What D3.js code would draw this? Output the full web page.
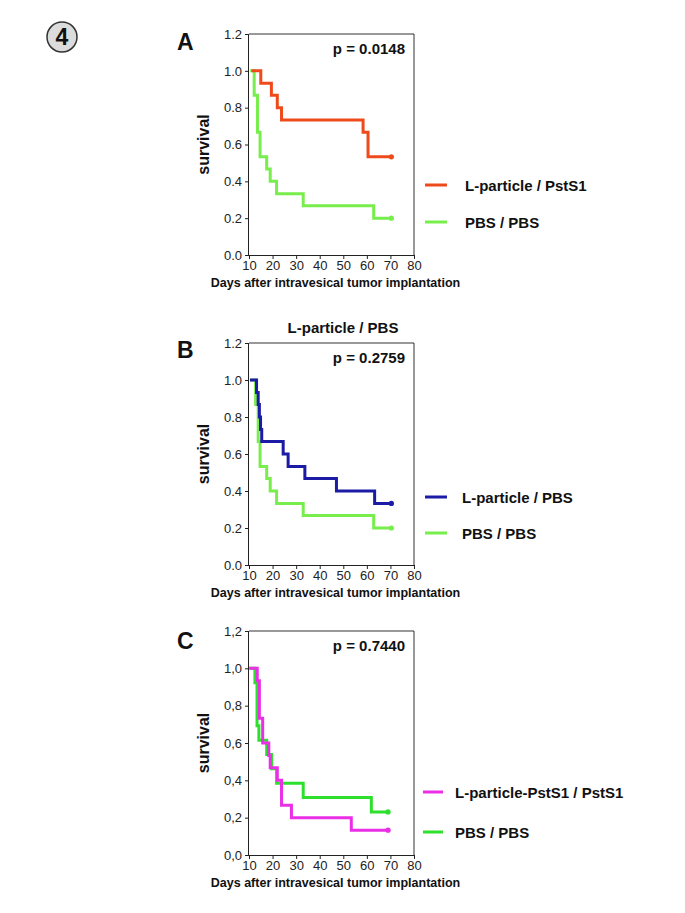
<!DOCTYPE html>
<html><head><meta charset="utf-8">
<script src="https://cdn.jsdelivr.net/npm/d3@7/dist/d3.min.js"></script>
<style>
body{margin:0;background:#fff;}
svg{display:block;font-family:"Liberation Sans",Arial,sans-serif;}
</style></head>
<body>
<svg id="chart" width="685" height="913"></svg>
<script>
// ---------- data ----------
const xTickValues = [10, 20, 30, 40, 50, 60, 70, 80];
const yTickValues = [0, 0.2, 0.4, 0.6, 0.8, 1.0, 1.2];
const yTickLabelsPoint = ["0.0", "0.2", "0.4", "0.6", "0.8", "1.0", "1.2"];
const yTickLabelsComma = ["0,0", "0,2", "0,4", "0,6", "0,8", "1,0", "1,2"];

const panelLetters = ["A", "B", "C"];
const pValues = ["p = 0.0148", "p = 0.2759", "p = 0.7440"];
const panelTitles = ["", "L-particle / PBS", ""];
const seriesNamesA = ["L-particle / PstS1", "PBS / PBS"];
const seriesNamesB = ["L-particle / PBS", "PBS / PBS"];
const seriesNamesC = ["L-particle-PstS1 / PstS1", "PBS / PBS"];

// Kaplan-Meier step points: [day, survival from that day on]
const survA_LparticlePstS1 = [[11,1.0],[15,0.933],[19.5,0.867],[22,0.8],[23.8,0.733],[58.4,0.667],[60.5,0.533],[70.4,0.533]];
const survA_PBS = [[10.5,1.0],[12.2,0.867],[13.6,0.667],[14.7,0.533],[17.5,0.467],[19,0.4],[21.7,0.333],[33,0.267],[62.9,0.2],[70.4,0.2]];
const survB_LparticlePBS = [[10.4,1.0],[13.2,0.933],[13.9,0.867],[14.4,0.8],[14.9,0.733],[15.4,0.667],[24.5,0.6],[26.6,0.533],[33.7,0.467],[47.1,0.4],[63.3,0.333],[70.4,0.333]];
const survB_PBS = [[10.5,1.0],[12.8,0.867],[13.9,0.667],[14.7,0.533],[17.5,0.467],[19,0.4],[21.7,0.333],[33,0.267],[62.9,0.2],[70.4,0.2]];
const survC_LparticlePstS1 = [[10.3,1.0],[13.5,0.933],[14.4,0.733],[15.8,0.6],[18.4,0.533],[19,0.467],[22,0.4],[23.8,0.267],[28,0.2],[53.4,0.133],[69,0.133]];
const survC_PBS = [[10,1.0],[12.5,0.923],[13.4,0.692],[14.2,0.615],[17.5,0.538],[19.6,0.462],[21.7,0.385],[33,0.308],[61.9,0.231],[69,0.231]];

// ---------- styles / layout ----------
const colRed = "#ef4a1c", colLightGreen = "#78ee4c", colBlue = "#1b1ba6", colMagenta = "#ea2fe6", colGreen = "#2ee02e";
const layout = [
  {top: 34, bottom: 255, letterY: 50, legendY: [185, 222], textX: 465, lineX: [425, 447]},
  {top: 343, bottom: 565, letterY: 358, legendY: [497, 533], textX: 462, lineX: [425, 447]},
  {top: 631, bottom: 855, letterY: 649, legendY: [792, 832], textX: 455, lineX: [423, 443]}
];
const panels = [
  {series: [survA_LparticlePstS1, survA_PBS], names: seriesNamesA, colors: [colRed, colLightGreen], ylab: yTickLabelsPoint},
  {series: [survB_LparticlePBS, survB_PBS], names: seriesNamesB, colors: [colBlue, colLightGreen], ylab: yTickLabelsPoint},
  {series: [survC_LparticlePstS1, survC_PBS], names: seriesNamesC, colors: [colMagenta, colGreen], ylab: yTickLabelsComma}
];
const left = 249, right = 414;

const svg = d3.select("#chart");
svg.append("rect").attr("width", 685).attr("height", 913).attr("fill", "#fff");

// figure number badge
svg.append("circle").attr("cx", 62).attr("cy", 37).attr("r", 15)
  .attr("fill", "#dcdcdc").attr("stroke", "#333").attr("stroke-width", 1.5);
svg.append("text").attr("x", 62).attr("y", 45).attr("text-anchor", "middle")
  .attr("font-size", 23).attr("font-weight", "bold").attr("fill", "#111").text("4");

panels.forEach((p, i) => {
  const L = layout[i];
  const x = d3.scaleLinear().domain([10, 80]).range([left, right]);
  const y = d3.scaleLinear().domain([0, 1.2]).range([L.bottom, L.top]);
  const g = svg.append("g");

  // frame (top and right)
  g.append("path").attr("d", `M${left},${L.top}H${right}V${L.bottom}`)
    .attr("fill", "none").attr("stroke", "#333").attr("stroke-width", 1);

  const yAxis = d3.axisLeft(y).tickValues(yTickValues).tickSize(4).tickPadding(3)
    .tickFormat((d, k) => p.ylab[k]);
  const ya = g.append("g").attr("transform", `translate(${left},0)`).call(yAxis);
  const xAxis = d3.axisBottom(x).tickValues(xTickValues).tickSize(4).tickPadding(2).tickFormat(d3.format("d"));
  const xa = g.append("g").attr("transform", `translate(0,${L.bottom})`).call(xAxis);
  [ya, xa].forEach(a => {
    a.select(".domain").attr("stroke", "#222");
    a.selectAll(".tick line").attr("stroke", "#222");
    a.selectAll("text").attr("font-size", 13).attr("fill", "#222").attr("font-family", "Liberation Sans, Arial, sans-serif");
  });
  ya.select(".domain").attr("d", `M-0.5,${L.bottom}V${L.top}`);
  xa.select(".domain").attr("d", `M${left},0.5H${right}`);

  // curves
  const line = d3.line().x(d => x(d[0])).y(d => y(d[1])).curve(d3.curveStepAfter);
  p.series.slice().reverse().forEach((s, jr) => {
    const j = p.series.length - 1 - jr;
    g.append("path").datum(s).attr("d", line).attr("fill", "none")
      .attr("stroke", p.colors[j]).attr("stroke-width", 3);
    const last = s[s.length - 1];
    g.append("circle").attr("cx", x(last[0])).attr("cy", y(last[1])).attr("r", 2.6).attr("fill", p.colors[j]);
  });

  // p-value
  g.append("text").attr("x", 405).attr("y", L.top + 20).attr("text-anchor", "end")
    .attr("font-size", 15).attr("font-weight", "bold").attr("fill", "#111").text(pValues[i]);

  // panel letter
  g.append("text").attr("x", 177).attr("y", L.letterY).attr("font-size", 23)
    .attr("font-weight", "bold").attr("fill", "#111").text(panelLetters[i]);

  // title
  if (panelTitles[i]) {
    g.append("text").attr("x", 343).attr("y", L.top - 10).attr("text-anchor", "middle")
      .attr("font-size", 15).attr("font-weight", "bold").attr("fill", "#111").text(panelTitles[i]);
  }

  // y label
  g.append("text").attr("transform", `translate(209,${(L.top + L.bottom) / 2}) rotate(-90)`)
    .attr("text-anchor", "middle").attr("font-size", 16).attr("font-weight", "bold").attr("fill", "#111").text("survival");

  // x label
  g.append("text").attr("x", 335.5).attr("y", L.bottom + 32).attr("text-anchor", "middle")
    .attr("font-size", 12.5).attr("font-weight", "bold").attr("fill", "#111").text("Days after intravesical tumor implantation");

  // legend
  p.names.forEach((n, j) => {
    g.append("line").attr("x1", L.lineX[0]).attr("x2", L.lineX[1])
      .attr("y1", L.legendY[j]).attr("y2", L.legendY[j])
      .attr("stroke", p.colors[j]).attr("stroke-width", 3);
    g.append("text").attr("x", L.textX).attr("y", L.legendY[j] + 5.5)
      .attr("font-size", 15).attr("font-weight", "bold").attr("fill", "#111").text(n);
  });
});
</script>
</body></html>
